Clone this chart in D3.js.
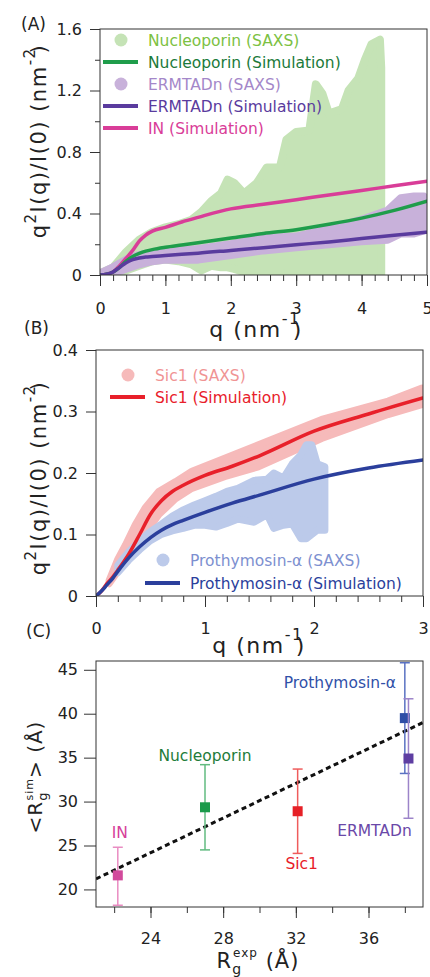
<!DOCTYPE html>
<html>
<head>
<meta charset="utf-8">
<script src="https://cdn.jsdelivr.net/npm/d3@7"></script>
<style>
    body { margin: 0; background: #fff; }
    svg { display: block; }
    text { font-family: 'DejaVu Sans', 'Noto Sans', sans-serif; }
</style>
</head>
<body>
<svg id="chart" width="430" height="977"></svg>
<script>

// ---- panel A : nucleoporin / ERMTADn / IN ----
const qSimA = [0, 0.1, 0.2, 0.3, 0.4, 0.5, 0.6, 0.7, 0.8, 1.0, 1.25, 1.5, 2.0, 2.5, 3.0, 3.5, 4.0, 4.5, 5.0];
const nucleoporinSim = [0, 0.005, 0.02, 0.05, 0.09, 0.12, 0.14, 0.155, 0.165, 0.18, 0.195, 0.21, 0.24, 0.27, 0.295, 0.33, 0.37, 0.42, 0.48];
const ermtadnSim = [0, 0.005, 0.02, 0.05, 0.08, 0.1, 0.11, 0.117, 0.12, 0.127, 0.135, 0.142, 0.16, 0.178, 0.197, 0.215, 0.237, 0.258, 0.278];
const inSim = [0, 0.005, 0.02, 0.06, 0.11, 0.16, 0.22, 0.26, 0.285, 0.31, 0.345, 0.375, 0.43, 0.46, 0.49, 0.52, 0.55, 0.58, 0.61];

// SAXS point clouds, read as lower / upper envelope of the dots
const nucleoporinSaxsQ = [0, 0.2, 0.4, 0.6, 0.8, 1.0, 1.2, 1.4, 1.55, 1.7, 1.85, 1.95, 2.05, 2.2, 2.4, 2.55, 2.75, 2.85, 3.0, 3.2, 3.3, 3.4, 3.5, 3.7, 3.8, 3.95, 4.05, 4.15, 4.28, 4.3];
const nucleoporinSaxsHigh = [0.01, 0.05, 0.15, 0.23, 0.28, 0.31, 0.33, 0.36, 0.41, 0.48, 0.53, 0.62, 0.6, 0.53, 0.6, 0.7, 0.7, 0.88, 0.93, 0.94, 1.24, 1.18, 1.05, 1.08, 1.2, 1.28, 1.4, 1.5, 1.53, 1.35];
const nucleoporinSaxsLow = [0, 0, 0.03, 0.06, 0.09, 0.1, 0.09, 0.07, 0.03, 0.06, 0.05, 0.05, 0.04, 0.02, 0.01, 0, 0, 0.01, 0, 0, 0, 0, 0, 0, 0, 0, 0, 0, 0, 0];

const ermtadnSaxsQ = [0, 0.2, 0.4, 0.6, 0.8, 1.0, 1.5, 2.0, 2.5, 3.0, 3.5, 4.0, 4.4, 4.6, 4.8, 4.95];
const ermtadnSaxsLow = [0, 0.01, 0.04, 0.07, 0.09, 0.1, 0.1, 0.13, 0.16, 0.18, 0.2, 0.22, 0.23, 0.27, 0.27, 0.29];
const ermtadnSaxsHigh = [0.01, 0.05, 0.1, 0.13, 0.14, 0.15, 0.17, 0.2, 0.24, 0.25, 0.3, 0.36, 0.42, 0.5, 0.51, 0.51];

// ---- panel B : Sic1 / prothymosin-alpha ----
const qSimB = [0, 0.05, 0.1, 0.15, 0.2, 0.3, 0.4, 0.5, 0.6, 0.7, 0.8, 1.0, 1.25, 1.5, 2.0, 2.5, 3.0];
const sic1Sim = [0, 0.008, 0.02, 0.03, 0.042, 0.068, 0.1, 0.133, 0.155, 0.17, 0.18, 0.196, 0.211, 0.228, 0.268, 0.296, 0.322];
const prothymosinSim = [0, 0.008, 0.018, 0.028, 0.04, 0.062, 0.08, 0.095, 0.107, 0.116, 0.123, 0.136, 0.151, 0.164, 0.19, 0.208, 0.221];

const sic1SaxsQ = [0.12, 0.2, 0.27, 0.36, 0.45, 0.575, 0.73, 0.88, 1.18, 1.49, 2.07, 2.68, 2.99];
const sic1SaxsLow = [0.02, 0.04, 0.055, 0.075, 0.1, 0.132, 0.158, 0.175, 0.194, 0.21, 0.256, 0.295, 0.311];
const sic1SaxsHigh = [0.025, 0.06, 0.083, 0.116, 0.143, 0.17, 0.186, 0.203, 0.224, 0.246, 0.287, 0.317, 0.338];

const prothymosinSaxsQ = [0.2, 0.3, 0.4, 0.5, 0.6, 0.7, 0.8, 0.9, 1.0, 1.1, 1.2, 1.3, 1.45, 1.57, 1.63, 1.72, 1.8, 1.88, 1.93, 1.98, 2.03, 2.1];
const prothymosinSaxsLow = [0.038, 0.058, 0.075, 0.09, 0.1, 0.106, 0.11, 0.115, 0.115, 0.112, 0.118, 0.125, 0.12, 0.132, 0.11, 0.115, 0.117, 0.093, 0.093, 0.1, 0.107, 0.107];
const prothymosinSaxsHigh = [0.05, 0.072, 0.09, 0.105, 0.117, 0.13, 0.14, 0.148, 0.155, 0.162, 0.17, 0.175, 0.188, 0.19, 0.2, 0.192, 0.215, 0.23, 0.246, 0.246, 0.215, 0.21];

// ---- panel C : radius of gyration ----
const proteins = ['IN', 'Nucleoporin', 'Sic1', 'Prothymosin-α', 'ERMTADn'];
const rgExp = [22.2, 27.0, 32.1, 38.0, 38.2];
const rgSim = [21.6, 29.35, 28.9, 39.5, 34.9];
const rgSimLow = [18.2, 24.5, 24.1, 33.2, 28.1];
const rgSimHigh = [24.8, 34.2, 33.7, 45.8, 41.7];
const fitRgExp = [21, 39];
const fitRgSim = [21.2, 39.0];

// tick labels
const xTicksA = [0, 1, 2, 3, 4, 5];
const yTicksA = [0, 0.4, 0.8, 1.2, 1.6];
const xTicksB = [0, 1, 2, 3];
const yTicksB = [0, 0.1, 0.2, 0.3, 0.4];
const xTicksC = [24, 28, 32, 36];
const yTicksC = [20, 25, 30, 35, 40, 45];

const colors = {
    nucSaxs: '#c5e3b6', nucSim: '#1f9d4b', nucSaxsText: '#7cc142', nucSimText: '#1b7a3a',
    ermSaxs: '#c8b1da', ermSim: '#5a3b9e', ermSaxsText: '#a487c9', ermSimText: '#5a3b9e',
    inSim: '#d93d98',
    sicSaxs: '#f6baba', sicSim: '#e8202a', sicSaxsText: '#f09494',
    protSaxs: '#bccaea', protSim: '#2b3f9c', protSaxsText: '#7d90d0',
    axis: '#333'
};

// colours and label offsets (px) for panel C
const rgStyle = {
    'IN': { fill: '#d24a9c', bar: '#e98cc2', text: '#d6409a', dx: 2, dy: -43 },
    'Nucleoporin': { fill: '#1a9a4a', bar: '#62bb80', text: '#1e7c3a', dx: 0, dy: -52 },
    'Sic1': { fill: '#e62026', bar: '#ef5c5c', text: '#e82028', dx: 4, dy: 52 },
    'Prothymosin-α': { fill: '#2e4ea6', bar: '#5a72c2', text: '#3050a8', dx: -65, dy: -36 },
    'ERMTADn': { fill: '#5e3ea2', bar: '#9c84c9', text: '#6a48a8', dx: -34, dy: 71 }
};

const svg = d3.select('#chart');

function makePanel(name, box, xDomain, yDomain) {
    let panel = { box: box };
    panel.x = d3.scaleLinear().domain(xDomain).range([box.left, box.right]);
    panel.y = d3.scaleLinear().domain(yDomain).range([box.bottom, box.top]);
    panel.g = svg.append('g').attr('class', 'panel-' + name);
    svg.append('clipPath').attr('id', 'clip-' + name).append('rect')
        .attr('x', box.left)
        .attr('y', box.top)
        .attr('width', box.right - box.left)
        .attr('height', box.bottom - box.top);
    panel.plot = panel.g.append('g').attr('clip-path', 'url(#clip-' + name + ')');
    return panel;
}

function styleAxis(sel) {
    sel.selectAll('.domain').remove();
    sel.selectAll('line').attr('stroke', colors.axis);
    sel.selectAll('text')
        .attr('fill', '#222')
        .style('font-size', '16px')
        .style('font-family', "'DejaVu Sans', sans-serif");
}

function drawAxes(panel, ax) {
    let b = panel.box;
    let g = panel.g;

    if (ax.xMinor) {
        g.append('g').attr('transform', 'translate(0,' + b.bottom + ')')
            .call(d3.axisBottom(panel.x).tickValues(ax.xMinor).tickSize(6).tickFormat(''))
            .call(styleAxis);
    }
    g.append('g').attr('transform', 'translate(0,' + b.bottom + ')')
        .call(d3.axisBottom(panel.x).tickValues(ax.xMajor).tickSize(11).tickPadding(ax.xPad).tickFormat(d => String(d)))
        .call(styleAxis);

    if (ax.yMinor) {
        g.append('g').attr('transform', 'translate(' + b.left + ',0)')
            .call(d3.axisLeft(panel.y).tickValues(ax.yMinor).tickSize(5).tickFormat(''))
            .call(styleAxis);
    }
    g.append('g').attr('transform', 'translate(' + b.left + ',0)')
        .call(d3.axisLeft(panel.y).tickValues(ax.yMajor).tickSize(ax.yTick).tickPadding(ax.yPad).tickFormat(d => String(d)))
        .call(styleAxis);

    g.append('rect')
        .attr('x', b.left)
        .attr('y', b.top)
        .attr('width', b.right - b.left)
        .attr('height', b.bottom - b.top)
        .attr('fill', 'none')
        .attr('stroke', colors.axis)
        .attr('stroke-width', 1);
}

function drawCloud(panel, q, low, high, color, radius) {
    let idx = d3.range(q.length);
    let area = d3.area()
        .x(i => panel.x(q[i]))
        .y0(i => panel.y(low[i]))
        .y1(i => panel.y(high[i]));
    panel.plot.append('path')
        .attr('d', area(idx))
        .attr('fill', color)
        .attr('stroke', color)
        .attr('stroke-width', radius * 2)
        .attr('stroke-linejoin', 'round');
}

function drawCurve(panel, q, values, color) {
    let idx = d3.range(q.length);
    let line = d3.line()
        .x(i => panel.x(q[i]))
        .y(i => panel.y(values[i]))
        .curve(d3.curveMonotoneX);
    panel.plot.append('path')
        .attr('d', line(idx))
        .attr('fill', 'none')
        .attr('stroke', color)
        .attr('stroke-width', 3.5)
        .attr('stroke-linecap', 'round');
}

function drawLegend(panel, entries) {
    let g = panel.g.append('g').attr('class', 'legend');
    entries.forEach(function (e) {
        if (e.type === 'dot') {
            g.append('circle')
                .attr('cx', e.x + 18)
                .attr('cy', e.y)
                .attr('r', 6.5)
                .attr('fill', e.color);
        } else {
            g.append('line')
                .attr('x1', e.x)
                .attr('x2', e.x + 35)
                .attr('y1', e.y)
                .attr('y2', e.y)
                .attr('stroke', e.color)
                .attr('stroke-width', 4);
        }
        g.append('text')
            .attr('x', e.x + 45)
            .attr('y', e.y + 6)
            .attr('fill', e.textColor)
            .style('font-size', '15.5px')
            .text(e.label);
    });
}

// q^2 I(q)/I(0) (nm^-2) style y title
function drawKratkyTitle(cx, cy) {
    let t = svg.append('text')
        .attr('transform', 'translate(' + cx + ',' + cy + ') rotate(-90)')
        .attr('text-anchor', 'middle')
        .attr('fill', '#222')
        .style('font-size', '21px')
        .style('letter-spacing', '1.5px');
    t.append('tspan').text('q');
    t.append('tspan').attr('dy', -10).style('font-size', '15px').text('2');
    t.append('tspan').attr('dy', 10).text('I(q)/I(0) (nm');
    t.append('tspan').attr('dy', -11).style('font-size', '15px').text('-2');
    t.append('tspan').attr('dy', 11).attr('dx', -6).text(')');
}

function drawQTitle(cx, y) {
    let t = svg.append('text')
        .attr('x', cx)
        .attr('y', y)
        .attr('text-anchor', 'middle')
        .attr('fill', '#222')
        .style('font-size', '22px')
        .style('letter-spacing', '1.5px');
    t.append('tspan').text('q (nm');
    t.append('tspan').attr('dy', -13).style('font-size', '16px').text('-1');
    t.append('tspan').attr('dy', 13).attr('dx', -8).text(')');
}

function panelLabel(text, x, y) {
    svg.append('text')
        .attr('x', x)
        .attr('y', y)
        .attr('fill', '#222')
        .style('font-size', '17px')
        .text(text);
}

// ---------------- panel A ----------------
function drawPanelA() {
    let p = makePanel('A', { left: 100, right: 427, top: 29, bottom: 275 }, [0, 5], [0, 1.6]);

    drawCloud(p, nucleoporinSaxsQ, nucleoporinSaxsLow, nucleoporinSaxsHigh, colors.nucSaxs, 4);
    drawCloud(p, ermtadnSaxsQ, ermtadnSaxsLow, ermtadnSaxsHigh, colors.ermSaxs, 4);
    drawCurve(p, qSimA, inSim, colors.inSim);
    drawCurve(p, qSimA, nucleoporinSim, colors.nucSim);
    drawCurve(p, qSimA, ermtadnSim, colors.ermSim);

    drawAxes(p, {
        xMajor: xTicksA, xMinor: d3.range(0, 5.01, 0.2), xPad: 17,
        yMajor: yTicksA, yMinor: d3.range(0.2, 1.6, 0.4), yTick: 10, yPad: 8
    });

    drawLegend(p, [
        { type: 'dot', label: 'Nucleoporin (SAXS)', color: colors.nucSaxs, textColor: colors.nucSaxsText, x: 103, y: 40 },
        { type: 'line', label: 'Nucleoporin (Simulation)', color: colors.nucSim, textColor: colors.nucSimText, x: 103, y: 62 },
        { type: 'dot', label: 'ERMTADn (SAXS)', color: colors.ermSaxs, textColor: colors.ermSaxsText, x: 103, y: 84 },
        { type: 'line', label: 'ERMTADn (Simulation)', color: colors.ermSim, textColor: colors.ermSimText, x: 103, y: 106 },
        { type: 'line', label: 'IN (Simulation)', color: colors.inSim, textColor: colors.inSim, x: 103, y: 128 }
    ]);

    drawKratkyTitle(46, 141);
    drawQTitle(256, 337);
    panelLabel('(A)', 21, 30);
}

// ---------------- panel B ----------------
function drawPanelB() {
    let p = makePanel('B', { left: 96, right: 423, top: 350, bottom: 596 }, [0, 3], [0, 0.4]);

    drawCloud(p, sic1SaxsQ, sic1SaxsLow, sic1SaxsHigh, colors.sicSaxs, 3.5);
    drawCloud(p, prothymosinSaxsQ, prothymosinSaxsLow, prothymosinSaxsHigh, colors.protSaxs, 3.5);
    drawCurve(p, qSimB, sic1Sim, colors.sicSim);
    drawCurve(p, qSimB, prothymosinSim, colors.protSim);

    drawAxes(p, {
        xMajor: xTicksB, xMinor: d3.range(0, 3.01, 0.2), xPad: 16,
        yMajor: yTicksB, yMinor: null, yTick: 10, yPad: 8
    });

    drawLegend(p, [
        { type: 'dot', label: 'Sic1 (SAXS)', color: colors.sicSaxs, textColor: colors.sicSaxsText, x: 110, y: 375 },
        { type: 'line', label: 'Sic1 (Simulation)', color: colors.sicSim, textColor: colors.sicSim, x: 110, y: 397 },
        { type: 'dot', label: 'Prothymosin-α (SAXS)', color: colors.protSaxs, textColor: colors.protSaxsText, x: 145, y: 560 },
        { type: 'line', label: 'Prothymosin-α (Simulation)', color: colors.protSim, textColor: colors.protSim, x: 145, y: 583 }
    ]);

    drawKratkyTitle(46, 478);
    drawQTitle(259, 653);
    panelLabel('(B)', 24, 334);
}

// ---------------- panel C ----------------
function drawPanelC() {
    let p = makePanel('C', { left: 96, right: 423, top: 661, bottom: 907 }, [21, 39], [18, 46]);

    p.plot.append('path')
        .attr('d', d3.line()(fitRgExp.map((v, i) => [p.x(v), p.y(fitRgSim[i])])))
        .attr('stroke', '#111')
        .attr('stroke-width', 3)
        .attr('stroke-dasharray', '5,3.5')
        .attr('fill', 'none');

    let idx = d3.range(proteins.length);
    let bars = p.g.selectAll('.rg-bar').data(idx).enter().append('g').attr('class', 'rg-bar');
    bars.append('line')
        .attr('x1', i => p.x(rgExp[i])).attr('x2', i => p.x(rgExp[i]))
        .attr('y1', i => p.y(rgSimLow[i])).attr('y2', i => p.y(rgSimHigh[i]))
        .attr('stroke', i => rgStyle[proteins[i]].bar).attr('stroke-width', 1.5);
    [rgSimLow, rgSimHigh].forEach(function (ends) {
        bars.append('line')
            .attr('x1', i => p.x(rgExp[i]) - 5).attr('x2', i => p.x(rgExp[i]) + 5)
            .attr('y1', i => p.y(ends[i])).attr('y2', i => p.y(ends[i]))
            .attr('stroke', i => rgStyle[proteins[i]].bar).attr('stroke-width', 1.5);
    });
    bars.append('rect')
        .attr('x', i => p.x(rgExp[i]) - 5)
        .attr('y', i => p.y(rgSim[i]) - 5)
        .attr('width', 10)
        .attr('height', 10)
        .attr('fill', i => rgStyle[proteins[i]].fill);
    bars.append('text')
        .attr('x', i => p.x(rgExp[i]) + rgStyle[proteins[i]].dx)
        .attr('y', i => p.y(rgSim[i]) + rgStyle[proteins[i]].dy + 6)
        .attr('text-anchor', 'middle')
        .attr('fill', i => rgStyle[proteins[i]].text)
        .style('font-size', '15.5px')
        .text(i => proteins[i]);

    drawAxes(p, {
        xMajor: xTicksC, xMinor: d3.range(22, 39, 2), xPad: 15,
        yMajor: yTicksC, yMinor: null, yTick: 12, yPad: 6
    });

    // <Rg^sim> (Å)
    let ty = svg.append('text')
        .attr('transform', 'translate(42,777) rotate(-90)')
        .attr('text-anchor', 'middle')
        .attr('fill', '#222')
        .style('font-size', '20px')
        .style('letter-spacing', '1px');
    ty.append('tspan').text('<R');
    ty.append('tspan').attr('dy', 5).style('font-size', '13px').text('g');
    ty.append('tspan').attr('dy', -14).attr('dx', -9).style('font-size', '11px').text('sim');
    ty.append('tspan').attr('dy', 9).text('> (Å)');

    // Rg^exp (Å)
    let tx = svg.append('text')
        .attr('x', 258)
        .attr('y', 968)
        .attr('text-anchor', 'middle')
        .attr('fill', '#222')
        .style('font-size', '21px')
        .style('letter-spacing', '1px');
    tx.append('tspan').text('R');
    tx.append('tspan').attr('dy', 6).style('font-size', '14px').text('g');
    tx.append('tspan').attr('dy', -17).attr('dx', -9).style('font-size', '12px').text('exp');
    tx.append('tspan').attr('dy', 11).text(' (Å)');

    panelLabel('(C)', 26, 637);
}

drawPanelA();
drawPanelB();
drawPanelC();

</script>
</body>
</html>
